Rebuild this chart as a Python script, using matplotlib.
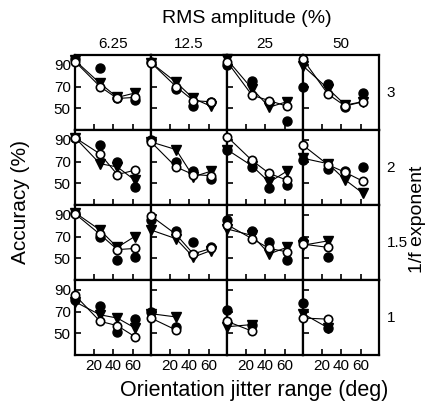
import matplotlib
matplotlib.use("Agg")
import matplotlib.pyplot as plt

plt.rcParams["font.family"] = ["Liberation Sans", "DejaVu Sans"]

# jitter ranges (deg) and panel labels
jitter = [0, 26, 44, 62]
rms_labels = ["6.25", "12.5", "25", "50"]
exp_labels = ["3", "2", "1.5", "1"]

# accuracy (%) per panel [row][col], three observers/series
filled = [
    [[95, 87, 59, 58], [93, 68, 52, 56], [90, 75, 56, 38], [70, 72, 51, 64]],
    [[92, 85, 70, 47], [90, 70, 61, 54], [81, 65, 46, 48], [71, 63, 61, 65]],
    [[92, 70, 48, 51], [85, 75, 65, 60], [85, 75, 65, 48], [66, 51]],
    [[81, 75, 51, 63], [70, 56], [71, 58], [78, 55]],
]
opened = [
    [[93, 70, 59, 60], [92, 70, 57, 56], [93, 62, 57, 52], [95, 63, 52, 56]],
    [[92, 77, 58, 62], [88, 65, 58, 57], [93, 71, 59, 53], [85, 67, 60, 52]],
    [[91, 72, 58, 59], [89, 72, 54, 59], [81, 68, 59, 56], [63, 60]],
    [[85, 61, 57, 47], [64, 53], [61, 52], [64, 63]],
]
triangle = [
    [[94, 73, 60, 64], [92, 74, 59, 52], [95, 68, 51, 56], [89, 68, 53, 56]],
    [[92, 68, 65, 53], [88, 81, 56, 61], [81, 66, 51, 61], [73, 68, 53, 41]],
    [[92, 76, 60, 70], [76, 68, 51, 57], [77, 71, 54, 60], [62, 66]],
    [[79, 67, 64, 55], [68, 65], [56, 58], [68, 55]],
]

fig, axes = plt.subplots(4, 4, figsize=(4.3, 4.03), dpi=100, sharex=True, sharey=True)
fig.subplots_adjust(left=0.1744, right=0.8814, top=0.8635, bottom=0.1191,
                    wspace=0, hspace=0)

for r in range(4):
    for c in range(4):
        ax = axes[r][c]
        f = filled[r][c]
        o = opened[r][c]
        t = triangle[r][c]
        # lines for open circles and triangles
        ax.plot(jitter[:len(o)], o, color="black", lw=0.8, zorder=1)
        ax.plot(jitter[:len(t)], t, color="black", lw=0.8, zorder=1)
        ax.plot(jitter[:len(f)], f, "o", color="black", ms=6.5, zorder=3, clip_on=False)
        ax.plot(jitter[:len(t)], t, "v", color="black", ms=7, zorder=3, clip_on=False)
        ax.plot(jitter[:len(o)], o, "o", mfc="white", mec="black", mew=1.2,
                ms=6, zorder=4, clip_on=False)
        ax.set_xlim(0, 79)
        ax.set_ylim(30, 99)
        ax.set_xticks([20, 40, 60])
        ax.set_yticks([50, 70, 90])
        ax.tick_params(direction="in", length=4, width=1.2, labelsize=11, pad=3)
        for s in ax.spines.values():
            s.set_linewidth(1.6)
        if c != 0:
            ax.tick_params(labelleft=False)
        if r != 3:
            ax.tick_params(labelbottom=False)
        if r == 0:
            ax.set_title(rms_labels[c], fontsize=11, pad=5)
    axes[r][3].text(1.1, 0.5, exp_labels[r], transform=axes[r][3].transAxes,
                    fontsize=11, va="center", ha="left")

fig.text(0.575, 0.955, "RMS amplitude (%)", fontsize=14, ha="center", va="center")
fig.text(0.047, 0.5, "Accuracy (%)", fontsize=15, rotation=90, ha="center", va="center")
fig.text(0.972, 0.455, "1/f exponent", fontsize=14, rotation=90, ha="center", va="center")
fig.text(0.59, 0.032, "Orientation jitter range (deg)", fontsize=15.5, ha="center", va="center")

plt.savefig("out.png", dpi=100)
